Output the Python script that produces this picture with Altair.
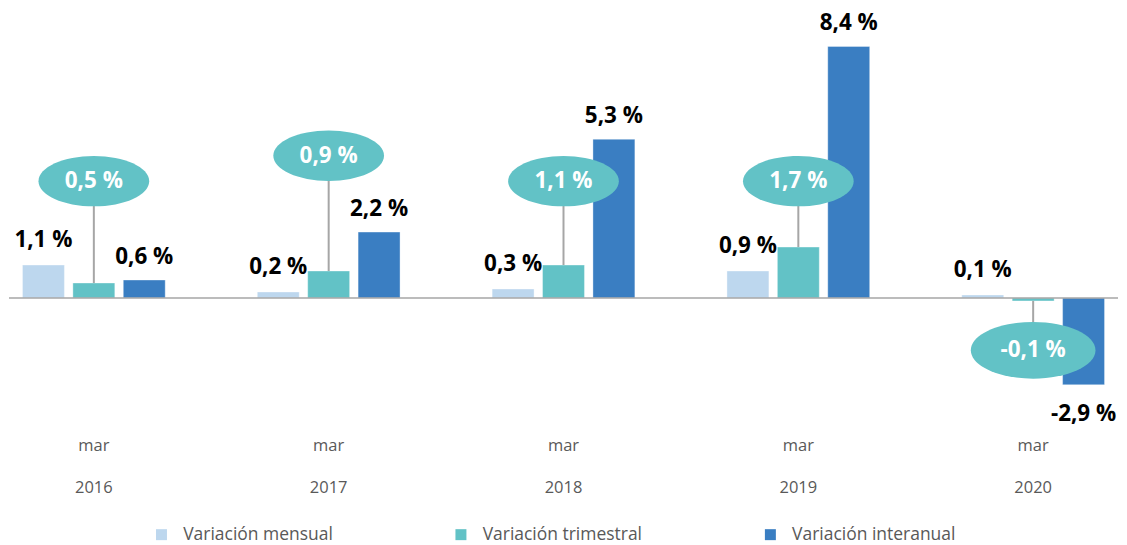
import altair as alt
import pandas as pd

years = ["2016", "2017", "2018", "2019", "2020"]
mensual = [1.1, 0.2, 0.3, 0.9, 0.1]
trimestral = [0.5, 0.9, 1.1, 1.7, -0.1]
interanual = [0.6, 2.2, 5.3, 8.4, -2.9]
bubble_pos = [3.9, 4.75, 3.9, 3.9, -1.75]
series = ["Variación mensual", "Variación trimestral", "Variación interanual"]
colors = ["#BDD7EE", "#62C2C6", "#3A7EC2"]


def fmt(v):
    return f"{v:.1f}".replace(".", ",") + " %"


rows = []
for i, yr in enumerate(years):
    for s, vals in zip(series, [mensual, trimestral, interanual]):
        rows.append(dict(year=yr, serie=s, value=vals[i], label=fmt(vals[i]), bubble=bubble_pos[i]))
df = pd.DataFrame(rows)

FONT = "Open Sans"
FS = 22.5

x = alt.X("year:N", sort=years,
          scale=alt.Scale(paddingInner=0.3, paddingOuter=0.0113),
          axis=alt.Axis(title=None, labelExpr="['mar', datum.label]", labelAngle=0,
                        ticks=False, domain=False, labelFont=FONT, labelFontSize=16.5,
                        labelColor="#595959", labelPadding=18, labelLineHeight=42))
xo = alt.XOffset("serie:N", sort=series,
                 scale=alt.Scale(domain=series, paddingInner=0.168, paddingOuter=0.2146))
yscale = alt.Scale(domain=[-4.067, 9.667], nice=False, zero=False)

base = alt.Chart(df)

bars = base.mark_bar(stroke="white", strokeWidth=0.6, strokeOpacity=0.6).encode(
    x=x, xOffset=xo,
    y=alt.Y("value:Q", scale=yscale, axis=None),
    y2=alt.datum(0),
    color=alt.Color("serie:N", sort=series,
                    scale=alt.Scale(domain=series, range=colors),
                    legend=alt.Legend(title=None, orient="none", legendX=144, legendY=518,
                                      direction="horizontal", symbolType="square",
                                      symbolSize=121, symbolStrokeWidth=0,
                                      labelFont=FONT, labelFontSize=17.5, labelColor="#595959",
                                      labelLimit=400,
                                      columnPadding=119, labelOffset=13, padding=0)),
)

zero = alt.Chart(pd.DataFrame({"z": [0]})).mark_rule(color="#A6A6A6", strokeWidth=1.5).encode(
    y=alt.Y("z:Q", scale=yscale, axis=None))

tri = base.transform_filter(alt.datum.serie == series[1])

connector = tri.mark_rule(color="#A6A6A6", strokeWidth=2).encode(
    x=x, xOffset=xo,
    y=alt.Y("value:Q", scale=yscale, axis=None), y2="bubble:Q")

ellipse_path = ("M -1 0 C -1 -0.251 -0.552 -0.4545 0 -0.4545 C 0.552 -0.4545 1 -0.251 1 0 "
                "C 1 0.251 0.552 0.4545 0 0.4545 C -0.552 0.4545 -1 0.251 -1 0 Z")
bubbles_pos = tri.transform_filter(alt.datum.value >= 0).mark_point(
    shape=ellipse_path, size=12300, filled=True, opacity=1, color="#62C2C6", strokeWidth=0).encode(
    x=x, xOffset=xo, y=alt.Y("bubble:Q", scale=yscale, axis=None))
bubbles_neg = tri.transform_filter(alt.datum.value < 0).mark_point(
    shape=ellipse_path, size=15600, filled=True, opacity=1, color="#62C2C6", strokeWidth=0).encode(
    x=x, xOffset=xo, y=alt.Y("bubble:Q", scale=yscale, axis=None))

bubble_text = tri.mark_text(font=FONT, fontSize=FS, fontWeight="bold", color="white",
                            baseline="middle").encode(
    x=x, xOffset=xo, y=alt.Y("bubble:Q", scale=yscale, axis=None), text="label:N")

men_text = base.transform_filter(alt.datum.serie == series[0]).mark_text(
    font=FONT, fontSize=FS, fontWeight="bold", color="black", baseline="middle", dy=-25).encode(
    x=x, xOffset=xo, y=alt.Y("value:Q", scale=yscale, axis=None), text="label:N")

inter = base.transform_filter(alt.datum.serie == series[2])
int_pos = inter.transform_filter(alt.datum.value >= 0).mark_text(
    font=FONT, fontSize=FS, fontWeight="bold", color="black", baseline="middle", dy=-23).encode(
    x=x, xOffset=xo, y=alt.Y("value:Q", scale=yscale, axis=None), text="label:N")
int_neg = inter.transform_filter(alt.datum.value < 0).mark_text(
    font=FONT, fontSize=FS, fontWeight="bold", color="black", baseline="middle", dy=29).encode(
    x=x, xOffset=xo, y=alt.Y("value:Q", scale=yscale, axis=None), text="label:N")

chart = alt.layer(bars, zero, connector, bubbles_pos, bubbles_neg, bubble_text, men_text,
                  int_pos, int_neg).properties(
    width=1111, height=412, padding={"left": 0, "top": 0, "right": 0, "bottom": 2}
).configure_view(stroke=None)

chart.save("out.html", embed_options={"renderer": "svg", "actions": False})
